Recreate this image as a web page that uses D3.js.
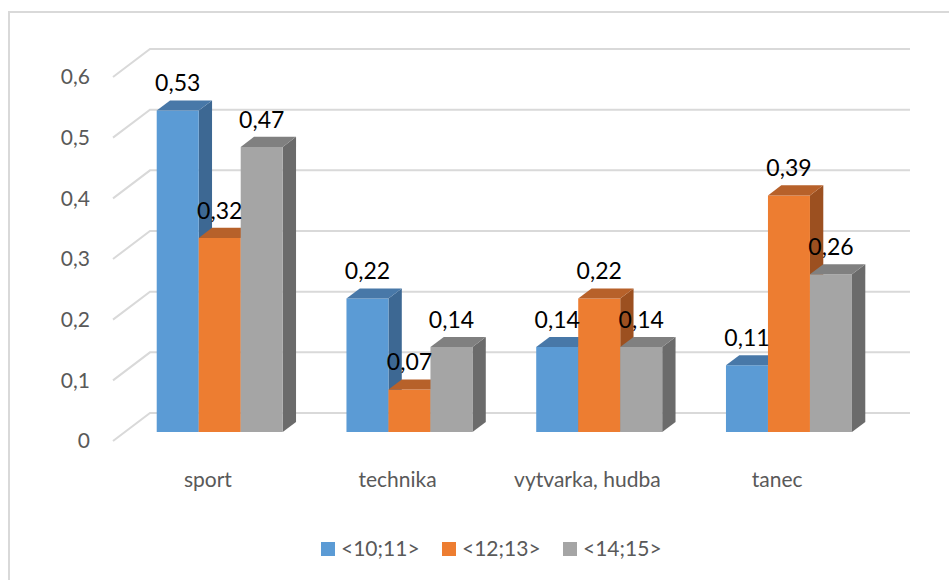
<!DOCTYPE html>
<meta charset="utf-8">
<style>
    body { margin: 0; background: #fff; }
    text { font-family: Lato, "Open Sans", sans-serif; }
</style>
<body>
<svg width="949" height="580"></svg>
<script src="https://d3js.org/d3.v7.min.js"></script>
<script>
    // donnees
    const categories = ["sport", "technika", "vytvarka, hudba", "tanec"];
    const series = ["<10;11>", "<12;13>", "<14;15>"];
    const values10 = [0.53, 0.22, 0.14, 0.11];
    const values12 = [0.32, 0.07, 0.22, 0.39];
    const values14 = [0.47, 0.14, 0.14, 0.26];
    const yTicks = [0, 0.1, 0.2, 0.3, 0.4, 0.5, 0.6];

    const colors = {
        "<10;11>": { front: "#5B9BD5", top: "#4878A8", side: "#3D6893" },
        "<12;13>": { front: "#ED7D31", top: "#B7612A", side: "#9C5020" },
        "<14;15>": { front: "#A5A5A5", top: "#808080", side: "#6B6B6B" }
    };

    const rows = categories.map((c, i) => ({
        category: c,
        vals: [values10[i], values12[i], values14[i]]
    }));

    const svg = d3.select("svg");

    // cadre
    svg.append("rect")
        .attr("x", 9).attr("y", 12)
        .attr("width", 980).attr("height", 620)
        .attr("fill", "none")
        .attr("stroke", "#d9d9d9")
        .attr("stroke-width", 2);

    // profondeur 3D (vecteur du plan avant vers le mur du fond)
    const depth = { dx: 37, dy: -28 };
    const barD0 = 0.32, barD1 = 0.68;

    const x0 = d3.scaleBand()
        .domain(categories)
        .range([113, 872])
        .paddingInner(0.336)
        .paddingOuter(0.168);

    const x1 = d3.scaleBand()
        .domain(series)
        .range([0, x0.bandwidth()]);

    const y = d3.scaleLinear()
        .domain([0, 0.6])
        .range([441, 77]);

    // grille du mur du fond
    const grid = svg.append("g")
        .attr("stroke", "#d9d9d9")
        .attr("stroke-width", 2)
        .attr("fill", "none");

    grid.selectAll("path")
        .data(yTicks)
        .join("path")
        .attr("d", d => `M113,${y(d)} L${113 + depth.dx},${y(d) + depth.dy} L910,${y(d) + depth.dy}`);

    // etiquettes axe Y
    svg.append("g")
        .selectAll("text")
        .data(yTicks)
        .join("text")
        .attr("x", 90)
        .attr("y", d => y(d))
        .attr("dy", "0.35em")
        .attr("text-anchor", "end")
        .attr("fill", "#595959")
        .style("font-size", "21px")
        .text(d => d3.format(".1~f")(d).replace(".", ","));

    // barres
    const bars = [];
    rows.forEach(r => {
        series.forEach((s, j) => {
            bars.push({ category: r.category, serie: s, value: r.vals[j] });
        });
    });

    const ox = depth.dx * barD0, oy = depth.dy * barD0;
    const bx = depth.dx * (barD1 - barD0), by = depth.dy * (barD1 - barD0);

    const barG = svg.append("g")
        .selectAll("g")
        .data(bars)
        .join("g");

    barG.each(function (d) {
        const g = d3.select(this);
        const xl = x0(d.category) + x1(d.serie) + ox;
        const xr = xl + x1.bandwidth();
        const yb = y(0) + oy;
        const yt = y(d.value) + oy;
        const c = colors[d.serie];
        d.cx = (xl + xr) / 2;
        d.topBack = yt + by;

        g.append("path")
            .attr("fill", c.side)
            .attr("d", `M${xr},${yt} L${xr + bx},${yt + by} L${xr + bx},${yb + by} L${xr},${yb} Z`);
        g.append("path")
            .attr("fill", c.front)
            .attr("d", `M${xl},${yt} L${xr},${yt} L${xr},${yb} L${xl},${yb} Z`);
        g.append("path")
            .attr("fill", c.top)
            .attr("d", `M${xl},${yt} L${xl + bx},${yt + by} L${xr + bx},${yt + by} L${xr},${yt} Z`);
    });

    // valeurs
    svg.append("g")
        .selectAll("text")
        .data(bars)
        .join("text")
        .attr("x", d => d.cx)
        .attr("y", d => d.topBack - 9)
        .attr("text-anchor", "middle")
        .attr("fill", "#000")
        .style("font-size", "23px")
        .text(d => d3.format(".2f")(d.value).replace(".", ","));

    // categories
    svg.append("g")
        .selectAll("text")
        .data(categories)
        .join("text")
        .attr("x", d => x0(d) + x0.bandwidth() / 2)
        .attr("y", 480)
        .attr("dy", "0.35em")
        .attr("text-anchor", "middle")
        .attr("fill", "#595959")
        .style("font-size", "21px")
        .text(d => d);

    // legende
    const legend = svg.append("g")
        .selectAll("g")
        .data(series)
        .join("g")
        .attr("transform", (d, i) => `translate(${321 + i * 121},542)`);

    legend.append("rect")
        .attr("width", 14).attr("height", 14)
        .attr("fill", d => colors[d].front);

    legend.append("text")
        .attr("x", 20)
        .attr("y", 7)
        .attr("dy", "0.35em")
        .attr("fill", "#595959")
        .style("font-size", "21px")
        .text(d => d);
</script>
</body>
